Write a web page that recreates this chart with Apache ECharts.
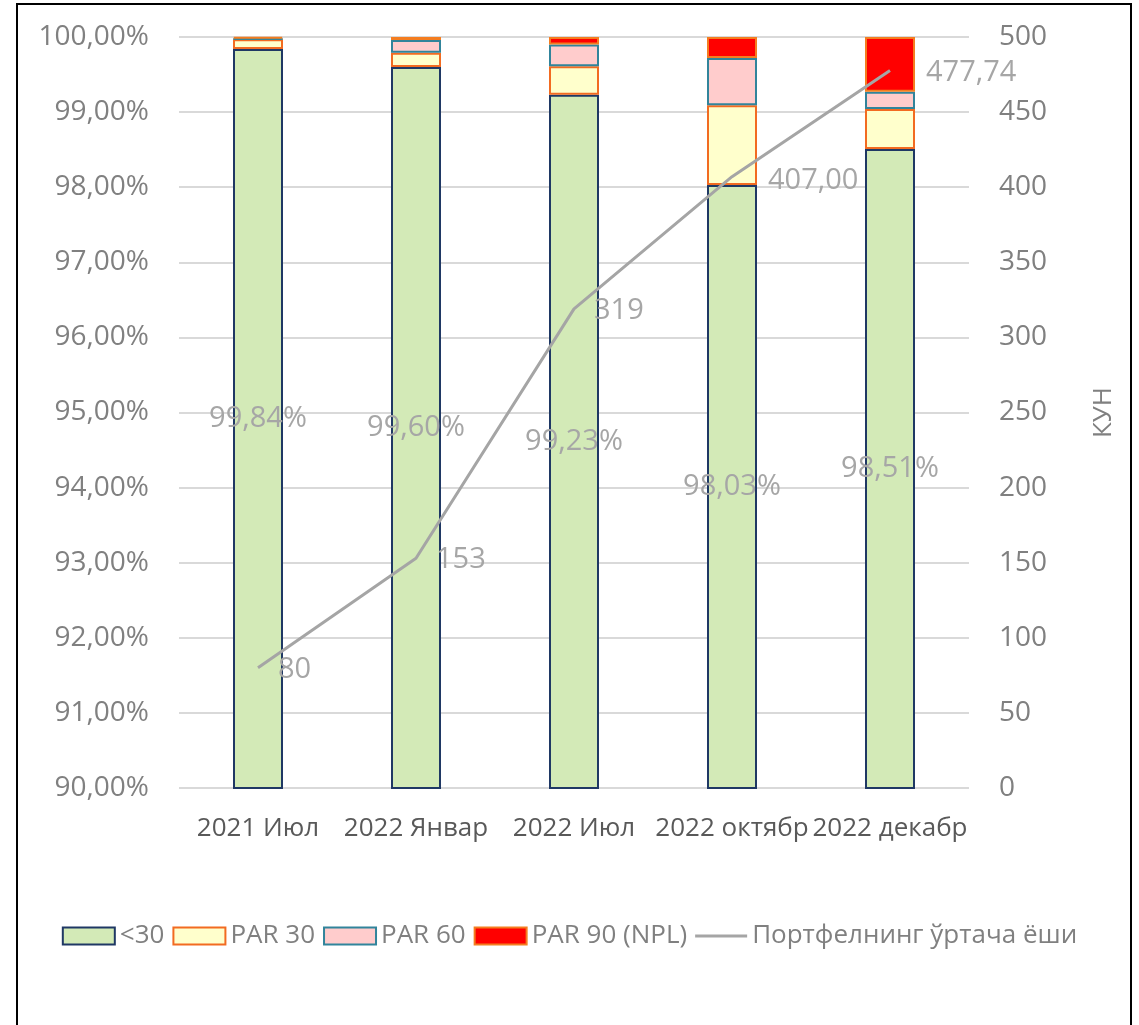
<!DOCTYPE html>
<html><head><meta charset="utf-8">
<script src="https://cdn.jsdelivr.net/npm/echarts@6/dist/echarts.min.js"></script>
<style>html,body{margin:0;padding:0;background:#fff}#c{width:1139px;height:1025px}</style>
</head><body><div id="c"></div>
<script>
const categories = ['2021 Июл', '2022 Январ', '2022 Июл', '2022 октябр', '2022 декабр'];
const under30 = [99.84, 99.60, 99.23, 98.03, 98.51];
const par30 = [0.13, 0.19, 0.38, 1.06, 0.53];
const par60 = [0.01, 0.17, 0.29, 0.63, 0.23];
const par90 = [0.02, 0.04, 0.10, 0.28, 0.73];
const avgAge = [80, 153, 319, 407, 477.74];
const avgAgeLabels = ['80', '153', '319', '407,00', '477,74'];
const under30Labels = ['99,84%', '99,60%', '99,23%', '98,03%', '98,51%'];
const leftTicks = ['90,00%','91,00%','92,00%','93,00%','94,00%','95,00%','96,00%','97,00%','98,00%','99,00%','100,00%'];

const FONT = '"Open Sans", "Noto Sans", sans-serif';
const axisGray = '#808080';
const chart = echarts.init(document.getElementById('c'));
const barW = 50;
// label placement tweaks for the line labels (style only)
const lineLabelOffsets = [[0, 2], [0, 2], [0, 2], [16, 4], [16, 2]];
chart.setOption({
  animation: false,
  textStyle: { fontFamily: FONT },
  graphic: [{ type: 'rect', shape: { x: 17, y: 4, width: 1114, height: 1060 }, style: { fill: 'none', stroke: '#000', lineWidth: 2 }, silent: true }],
  grid: { left: 179, right: 170, top: 37, bottom: 237 },
  legend: {
    bottom: 71, left: 'center', itemWidth: 52, itemHeight: 17, itemGap: 8,
    textStyle: { fontFamily: FONT, fontSize: 26, color: axisGray, padding: [0, 0, 0, 0] },
    data: [
      { name: '<30', icon: 'rect' },
      { name: 'PAR 30', icon: 'rect' },
      { name: 'PAR 60', icon: 'rect' },
      { name: 'PAR 90 (NPL)', icon: 'rect' },
      { name: 'Портфелнинг ўртача ёши', icon: 'path://M0,0 L52,0 L52,3 L0,3 Z', itemStyle: { color: '#A5A5A5', borderWidth: 0 } }
    ]
  },
  xAxis: {
    type: 'category', data: categories,
    axisLine: { show: false }, axisTick: { show: false },
    axisLabel: { interval: 0, fontSize: 26, color: '#595959', margin: 28, fontFamily: FONT }
  },
  yAxis: [{
    type: 'value', min: 90, max: 100, interval: 1,
    axisLine: { show: false }, axisTick: { show: false },
    splitLine: { lineStyle: { color: '#D9D9D9', width: 2 } },
    axisLabel: { fontSize: 28, color: axisGray, margin: 30, fontFamily: FONT,
      formatter: v => leftTicks[Math.round(v - 90)] }
  }, {
    type: 'value', min: 0, max: 500, interval: 50, position: 'right',
    name: 'КУН', nameLocation: 'middle', nameGap: 122, nameRotate: 90,
    nameTextStyle: { fontSize: 26, color: axisGray, fontFamily: FONT },
    axisLine: { show: false }, axisTick: { show: false }, splitLine: { show: false },
    axisLabel: { fontSize: 28, color: axisGray, margin: 30, fontFamily: FONT }
  }],
  series: [
    { name: '<30', type: 'bar', stack: 's', barWidth: barW, data: under30,
      itemStyle: { color: '#D3EAB7', borderColor: '#1F3864', borderWidth: 2 },
      label: { show: true, position: 'inside', fontSize: 29, color: '#A6A6A6', fontFamily: FONT,
        formatter: p => under30Labels[p.dataIndex] } },
    { name: 'PAR 30', type: 'bar', stack: 's', barWidth: barW, data: par30,
      itemStyle: { color: '#FFFFCC', borderColor: '#F26B21', borderWidth: 2 } },
    { name: 'PAR 60', type: 'bar', stack: 's', barWidth: barW, data: par60,
      itemStyle: { color: '#FFCCCC', borderColor: '#31849B', borderWidth: 2 } },
    { name: 'PAR 90 (NPL)', type: 'bar', stack: 's', barWidth: barW, data: par90,
      itemStyle: { color: '#FF0000', borderColor: '#F47D20', borderWidth: 2 } },
    { name: 'Портфелнинг ўртача ёши', type: 'line', yAxisIndex: 1,
      data: avgAge.map((v, i) => ({ value: v, label: { offset: lineLabelOffsets[i] } })),
      symbol: 'circle', symbolSize: 0, showSymbol: true,
      lineStyle: { color: '#A5A5A5', width: 3 }, itemStyle: { color: '#A5A5A5' },
      label: { show: true, position: 'right', distance: 20, fontSize: 29, color: '#A6A6A6', fontFamily: FONT,
        formatter: p => avgAgeLabels[p.dataIndex] } }
  ]
});
</script></body></html>
